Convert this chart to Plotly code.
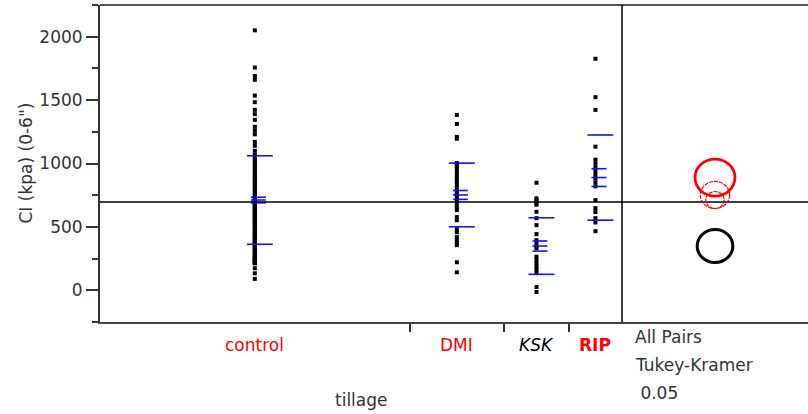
import plotly.graph_objects as go

# ---- data -------------------------------------------------------------
groups = ["control", "DMI", "KSK", "RIP"]

control_ci = [
    2050, 1757, 1690, 1660, 1536, 1484, 1423, 1389, 1344, 1290, 1260, 1230,
    1170, 1140, 1100, 1070,
    1045, 1030, 1015, 1000, 990, 975, 960, 950, 935, 920,
    905, 890, 880, 865, 850, 840, 825, 810, 800, 790,
    775, 760, 750, 740, 730, 720, 712, 705, 698, 690,
    680, 672, 665, 655, 645, 635, 625, 615, 605, 598,
    590, 580, 570, 560, 552, 545, 535, 525, 515, 505,
    495, 485, 475, 465, 455, 448, 440, 430, 420, 410,
    400, 392, 385, 375, 365, 355, 345, 338, 330, 320,
    310, 300, 292, 285, 275, 265, 258, 250, 242, 235,
    228, 222, 218, 215, 213, 245,
    174, 134, 90,
]
dmi_ci = [
    1383, 1312, 1210, 1195,
    1004, 990, 980, 955, 930, 905, 880, 855, 830, 805, 780, 770, 755, 730,
    705, 680, 655, 632,
    577, 553, 482, 458, 419, 395, 372, 356, 221, 142,
]
ksk_ci = [
    848, 725, 712, 700, 688, 675, 619, 569, 514, 443, 395, 370, 345, 332,
    265, 240, 215, 190, 165, 142, 26, -13,
]
rip_ci = [
    1826, 1523, 1423, 1133, 1030, 1000, 970, 940, 910, 880, 850, 820,
    711, 648, 617, 569, 535, 466,
]

group_means = [712, 752, 349, 889]
group_sd = [349, 251, 223, 336]
group_se = [22, 35, 40, 70]
circle_radius = [67, 107, 130, 146]
grand_mean = 697

circle_color = ["#ff0000", "#ff0000", "#000000", "#ff0000"]
circle_width = [1.2, 1.2, 3, 2.8]
circle_dash = ["4px,1px", "4px,1px", "solid", "solid"]

label_color = ["#ff0000", "#ff0000", "#000000", "#ff0000"]
label_text = ["control", "DMI", "<i>KSK</i>", "<b>RIP</b>"]

# ---- geometry ---------------------------------------------------------
W, H = 808, 414
ML, MR, MT, MB = 100, 0, 5, 92
plot_w = W - ML - MR
plot_h = H - MT - MB
main_frac = 522 / plot_w
y_range = [-250, 2250]
px_per_unit = plot_h / (y_range[1] - y_range[0])

values = [control_ci, dmi_ci, ksk_ci, rip_ci]
sizes = [len(v) for v in values]
bounds = []
acc = 0
centers = []
for n in sizes:
    centers.append(acc + n / 2)
    acc += n
    bounds.append(acc)
total_n = acc

FONT = "DejaVu Sans"
TXT = "#333333"

fig = go.Figure()

# data points, stacked on each group's centre
for name, vals, cx in zip(groups, values, centers):
    fig.add_trace(go.Scatter(
        x=[cx] * len(vals), y=vals, mode="markers",
        marker=dict(symbol="square", size=4, color="black", line=dict(width=0)),
        name=name, showlegend=False, hoverinfo="y",
    ))

shapes = []

# mean / std-error (short) and std-dev (long) lines
for cx, m, sd, se in zip(centers, group_means, group_sd, group_se):
    for v in (m - sd, m + sd):
        shapes.append(dict(type="line", xref="x", yref="y", xsizemode="pixel",
                           xanchor=cx, x0=-8, x1=18, y0=v, y1=v,
                           line=dict(color="#1010ff", width=1.6)))
    for v in (m - se, m, m + se):
        shapes.append(dict(type="line", xref="x", yref="y", xsizemode="pixel",
                           xanchor=cx, x0=-4, x1=11, y0=v, y1=v,
                           line=dict(color="#1010ff", width=1.6)))

# overall mean line
shapes.append(dict(type="line", xref="paper", yref="y", x0=0, x1=1,
                   y0=grand_mean, y1=grand_mean,
                   line=dict(color="black", width=1.5)))

# frame: top edge and panel separator
shapes.append(dict(type="line", xref="paper", yref="paper", x0=0, x1=1,
                   y0=1, y1=1, line=dict(color="#555555", width=2)))
shapes.append(dict(type="line", xref="paper", yref="paper", x0=main_frac,
                   x1=main_frac, y0=0, y1=1, line=dict(color="black", width=1.5)))

# comparison circles
for m, r, col, lw, dash in zip(group_means, circle_radius, circle_color,
                               circle_width, circle_dash):
    rx = r * px_per_unit * 1.08
    shapes.append(dict(type="circle", xref="x2", yref="y", xsizemode="pixel",
                       xanchor=0.5, x0=-rx, x1=rx, y0=m - r, y1=m + r,
                       line=dict(color=col, width=lw, dash=dash)))

annotations = []
for cx, txt, col in zip(centers, label_text, label_color):
    annotations.append(dict(x=cx, xref="x", y=-23 / plot_h, yref="paper",
                            text=txt, showarrow=False, xanchor="center",
                            yanchor="middle",
                            font=dict(family=FONT, size=17, color=col)))

annotations.append(dict(x=main_frac / 2, xref="paper", y=-78 / plot_h,
                        yref="paper", text="tillage", showarrow=False,
                        xanchor="center", yanchor="middle",
                        font=dict(family=FONT, size=17, color=TXT)))
annotations.append(dict(x=-75 / plot_w, xref="paper", y=0.5, yref="paper",
                        text='CI (kpa) (0-6")', textangle=-90, showarrow=False,
                        xanchor="center", yanchor="middle",
                        font=dict(family=FONT, size=17, color=TXT)))
for txt, dx, dy in [("All Pairs", 11, 15), ("Tukey-Kramer", 11, 43), (" 0.05", 11, 71)]:
    annotations.append(dict(x=main_frac + dx / plot_w, xref="paper",
                            y=-dy / plot_h, yref="paper", text=txt,
                            showarrow=False, xanchor="left", yanchor="middle",
                            font=dict(family=FONT, size=17, color=TXT)))

fig.update_layout(
    width=W, height=H,
    margin=dict(l=ML, r=MR, t=MT, b=MB, pad=0),
    paper_bgcolor="white", plot_bgcolor="white",
    showlegend=False,
    xaxis=dict(domain=[0, main_frac], range=[0, total_n], showgrid=False,
               zeroline=False, showline=True, linecolor="#444444", linewidth=2,
               tickvals=bounds[:-1], ticks="outside", ticklen=8, tickwidth=1.5,
               tickcolor="#333333", showticklabels=False),
    xaxis2=dict(domain=[main_frac, 1], range=[0, 1], anchor="y",
                showgrid=False, zeroline=False, showline=True,
                linecolor="#444444", linewidth=2, showticklabels=False,
                ticks=""),
    yaxis=dict(range=y_range, showgrid=False, zeroline=False, showline=True,
               linecolor="#333333", linewidth=2,
               tickvals=[0, 500, 1000, 1500, 2000], ticks="outside",
               ticklen=12, tickwidth=1.5, tickcolor="#333333",
               minor=dict(dtick=250, tick0=0, ticks="outside", ticklen=6,
                          tickwidth=1.5, tickcolor="#333333"),
               tickfont=dict(family=FONT, size=17, color=TXT)),
    shapes=shapes,
    annotations=annotations,
)

fig.write_html("out.html")
